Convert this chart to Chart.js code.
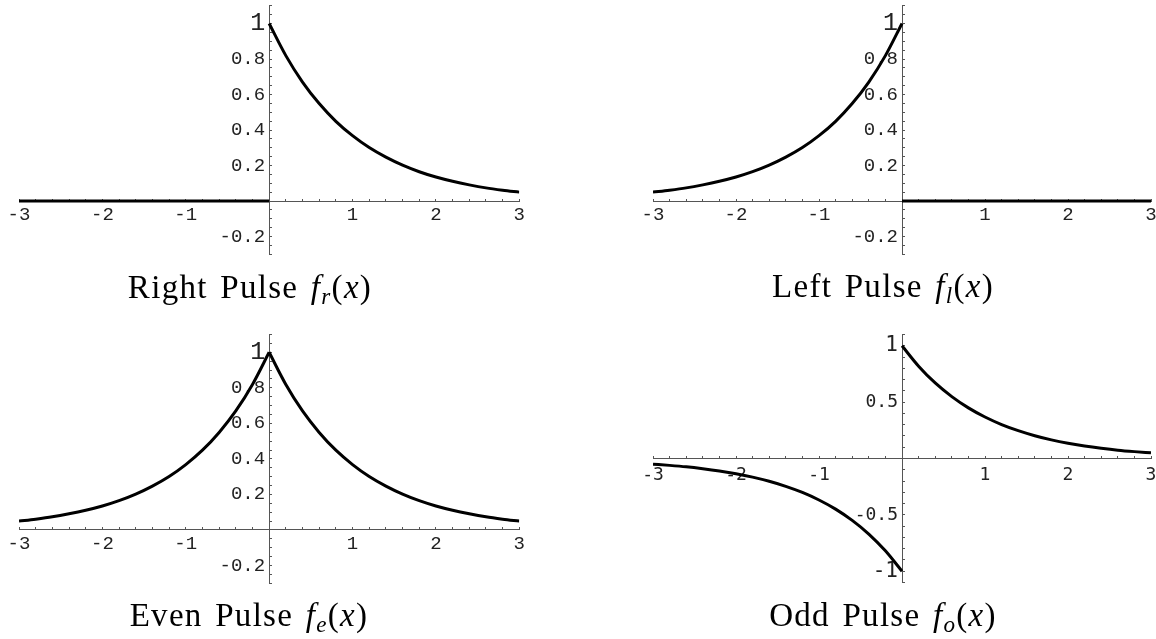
<!DOCTYPE html>
<html>
<head>
<meta charset="utf-8">
<script src="https://cdn.jsdelivr.net/npm/chart.js@4.4.0/dist/chart.umd.min.js"></script>
<style>
html, body { margin: 0; padding: 0; background: #fff; width: 1156px; height: 639px; overflow: hidden; position: relative; }
canvas { position: absolute; left: 0; top: -20px; }
.cap { position: absolute; font-family: "Liberation Serif", serif; font-size: 33px; line-height: 33px; white-space: nowrap; color: #000; letter-spacing: 1.3px; word-spacing: 3px; transform: translateX(-50%); }
.cap i { font-style: italic; }
.cap sub { font-size: 0.7em; vertical-align: -0.25em; line-height: 0; }
</style>
</head>
<body>
<canvas id="c1" width="1180" height="680"></canvas>
<canvas id="c2" width="1180" height="680"></canvas>
<canvas id="c3" width="1180" height="680"></canvas>
<canvas id="c4" width="1180" height="680"></canvas>
<div class="cap" style="left:250px; top:270.7px;">Right Pulse <i>f</i><sub><i>r</i></sub>(<i>x</i>)</div>
<div class="cap" style="left:883px; top:270.1px;">Left Pulse <i>f</i><sub><i>l</i></sub>(<i>x</i>)</div>
<div class="cap" style="left:249px; top:599.1px;">Even Pulse <i>f</i><sub><i>e</i></sub>(<i>x</i>)</div>
<div class="cap" style="left:883px; top:599.1px;">Odd Pulse <i>f</i><sub><i>o</i></sub>(<i>x</i>)</div>
<script>
// ---- data ----
const xNeg = [-3, -2.8, -2.6, -2.4, -2.2, -2, -1.8, -1.6, -1.4, -1.2, -1, -0.8, -0.6, -0.4, -0.2, 0];
const xPos = [0, 0.2, 0.4, 0.6, 0.8, 1, 1.2, 1.4, 1.6, 1.8, 2, 2.2, 2.4, 2.6, 2.8, 3];

const rightNeg = [0, 0, 0, 0, 0, 0, 0, 0, 0, 0, 0, 0, 0, 0, 0, 0];
const rightPos = [1, 0.819, 0.670, 0.549, 0.449, 0.368, 0.301, 0.247, 0.202, 0.165, 0.135, 0.111, 0.091, 0.074, 0.061, 0.050];

const leftNeg = [0.050, 0.061, 0.074, 0.091, 0.111, 0.135, 0.165, 0.202, 0.247, 0.301, 0.368, 0.449, 0.549, 0.670, 0.819, 1];
const leftPos = [0, 0, 0, 0, 0, 0, 0, 0, 0, 0, 0, 0, 0, 0, 0, 0];

const evenNeg = [0.050, 0.061, 0.074, 0.091, 0.111, 0.135, 0.165, 0.202, 0.247, 0.301, 0.368, 0.449, 0.549, 0.670, 0.819, 1];
const evenPos = [1, 0.819, 0.670, 0.549, 0.449, 0.368, 0.301, 0.247, 0.202, 0.165, 0.135, 0.111, 0.091, 0.074, 0.061, 0.050];

const oddNeg = [-0.050, -0.061, -0.074, -0.091, -0.111, -0.135, -0.165, -0.202, -0.247, -0.301, -0.368, -0.449, -0.549, -0.670, -0.819, -1];
const oddPos = [1, 0.819, 0.670, 0.549, 0.449, 0.368, 0.301, 0.247, 0.202, 0.165, 0.135, 0.111, 0.091, 0.074, 0.061, 0.050];

// tick labels
const xTickVals = [-3, -2, -1, 1, 2, 3];
const xTickText = ['-3', '-2', '-1', '1', '2', '3'];
const pulseYTickVals = [-0.2, 0.2, 0.4, 0.6, 0.8, 1];
const pulseYTickText = ['-0.2', '0.2', '0.4', '0.6', '0.8', '1'];
const oddYTickVals = [-1, -0.5, 0.5, 1];
const oddYTickText = ['-1', '-0.5', '0.5', '1'];

// ---- layout helpers ----
const CW = 1180, CH = 680, OY = 20;
function pad(l, r, t, b) { return { left: l, right: CW - r, top: t + OY, bottom: CH - (b + OY) }; }
function labeler(vals, texts) {
  return (v) => { const i = vals.findIndex(t => Math.abs(t - v) < 1e-6); return i < 0 ? '' : texts[i]; };
}
const AXIS = '#555';
const LABEL = '#222';

const yLabelShift = {
  id: 'yLabelShift',
  beforeDraw(chart) {
    const ys = chart.scales.y, xs = chart.scales.x;
    const px = xs.getPixelForValue(0) - 4;
    ys.getLabelItems(chart.chartArea).forEach(it => {
      it.options.translation[0] = px;
      it.options.textAlign = 'right';
    });
  }
};

function makePanel(id, p) {
  new Chart(document.getElementById(id), {
    type: 'line',
    data: {
      datasets: [
        { data: xNeg.map((x, i) => ({ x: x, y: p.neg[i] })), borderColor: '#000', borderWidth: 3, pointRadius: 0, cubicInterpolationMode: 'monotone', fill: false },
        { data: xPos.map((x, i) => ({ x: x, y: p.pos[i] })), borderColor: '#000', borderWidth: 3, pointRadius: 0, cubicInterpolationMode: 'monotone', fill: false }
      ]
    },
    options: {
      responsive: false,
      animation: false,
      events: [],
      layout: { autoPadding: false, padding: p.pad },
      plugins: { legend: { display: false }, tooltip: { enabled: false }, title: { display: false } },
      scales: {
        x: {
          type: 'linear', min: -3, max: 3, position: { y: 0 },
          ticks: {
            stepSize: 0.2, autoSkip: false, maxRotation: 0, minRotation: 0, maxTicksLimit: 1000,
            padding: p.xPad, color: LABEL,
            font: { family: p.font, size: p.size },
            callback: labeler(xTickVals, xTickText)
          },
          grid: { drawOnChartArea: false, drawTicks: true, tickLength: -3, color: AXIS, lineWidth: 1 },
          border: { display: true, color: AXIS, width: 1 }
        },
        y: {
          type: 'linear', min: p.yMin, max: p.yMax, position: { x: 0 },
          ticks: {
            stepSize: p.yStep, autoSkip: false, maxTicksLimit: 1000, padding: 0, color: LABEL,
            font: (ctx) => ({ family: p.font, size: (ctx.tick && Math.abs(Math.abs(ctx.tick.value) - 1) < 1e-6) ? p.big : p.size }),
            callback: labeler(p.yVals, p.yText)
          },
          grid: { drawOnChartArea: false, drawTicks: true, tickLength: -3, color: AXIS, lineWidth: 1 },
          border: { display: true, color: AXIS, width: 1 }
        }
      }
    },
    plugins: [yLabelShift]
  });
}

makePanel('c1', { pad: pad(19, 519.3, 5.75, 254.25), yMin: -0.3, yMax: 1.1, yStep: 0.05, yVals: pulseYTickVals, yText: pulseYTickText,
  neg: rightNeg, pos: rightPos, font: 'Liberation Mono', size: 19, big: 25, xPad: 6 });
makePanel('c2', { pad: pad(653, 1151, 5.75, 254.25), yMin: -0.3, yMax: 1.1, yStep: 0.05, yVals: pulseYTickVals, yText: pulseYTickText,
  neg: leftNeg, pos: leftPos, font: 'Liberation Mono', size: 19, big: 25, xPad: 6 });
makePanel('c3', { pad: pad(19, 519.3, 334.5, 583.3), yMin: -0.3, yMax: 1.1, yStep: 0.05, yVals: pulseYTickVals, yText: pulseYTickText,
  neg: evenNeg, pos: evenPos, font: 'Liberation Mono', size: 19, big: 25, xPad: 6 });
makePanel('c4', { pad: pad(653, 1151, 334.5, 582.5), yMin: -1.1, yMax: 1.1, yStep: 0.1, yVals: oddYTickVals, yText: oddYTickText,
  neg: oddNeg, pos: oddPos, font: 'DejaVu Sans Mono', size: 18, big: 21, xPad: 9 });
</script>
</body>
</html>
